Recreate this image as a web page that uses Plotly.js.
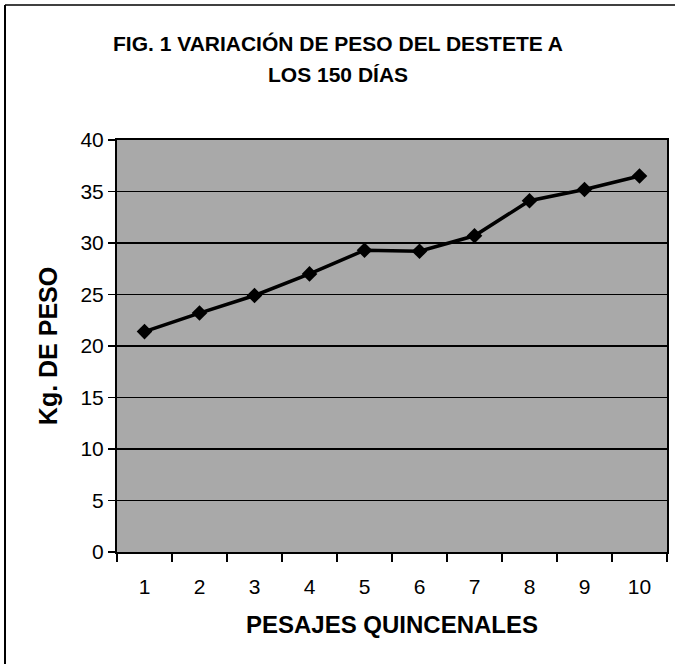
<!DOCTYPE html>
<html>
<head>
<meta charset="utf-8">
<script src="https://cdn.plot.ly/plotly-3.0.1.min.js"></script>
<style>html,body{margin:0;padding:0;background:#fff;}#chart{width:675px;height:664px;}</style>
</head>
<body>
<div id="chart"></div>
<script>
const categories = ["1","2","3","4","5","6","7","8","9","10"];
const pesos = [21.4, 23.2, 24.9, 27.0, 29.3, 29.2, 30.7, 34.1, 35.2, 36.5];
const yTicks = [0, 5, 10, 15, 20, 25, 30, 35, 40];
const titleLines = ['FIG. 1 VARIACIÓN DE PESO DEL DESTETE A', 'LOS 150 DÍAS'];

const trace = {
  x: categories,
  y: pesos,
  type: 'scatter',
  mode: 'lines+markers',
  line: {color: '#000', width: 3.5},
  marker: {symbol: 'diamond', size: 12, color: '#000'},
  hoverinfo: 'skip'
};

// plot area in pixels: x 117..667, y 140..552
const px = x => (x - 117) / 550;
const py = y => (552 - y) / 412;

const layout = {
  width: 675, height: 664,
  margin: {l: 117, r: 8, t: 140, b: 112},
  paper_bgcolor: '#fff',
  plot_bgcolor: '#a9a9a9',
  font: {family: 'Liberation Sans, Arial, sans-serif', color: '#000'},
  showlegend: false,
  xaxis: {
    type: 'category',
    range: [-0.5, categories.length - 0.5],
    tickson: 'boundaries',
    ticks: 'outside', ticklen: 8, tickwidth: 1.5, tickcolor: '#000',
    ticklabelstandoff: 15,
    showline: true, linecolor: '#000', linewidth: 2, mirror: true,
    showgrid: false, zeroline: false,
    tickfont: {size: 21},
    title: {text: '<b>PESAJES QUINCENALES</b>', font: {size: 24}, standoff: 19},
    fixedrange: true
  },
  yaxis: {
    range: [0, 40],
    tickvals: yTicks,
    ticks: 'outside', ticklen: 7, tickwidth: 1.5, tickcolor: '#000',
    showline: true, linecolor: '#000', linewidth: 2, mirror: true,
    showgrid: true, gridcolor: '#000', gridwidth: 1.8, zeroline: false,
    tickfont: {size: 21},
    title: {text: '<b>Kg. DE PESO</b>', font: {size: 25}, standoff: 16},
    fixedrange: true
  },
  annotations: [
    {text: '<b>' + titleLines[0] + '</b>', xref: 'paper', yref: 'paper', x: px(337.5), y: py(43), xanchor: 'center', yanchor: 'middle', showarrow: false, font: {size: 21, color: '#000'}},
    {text: '<b>' + titleLines[1] + '</b>', xref: 'paper', yref: 'paper', x: px(338), y: py(74), xanchor: 'center', yanchor: 'middle', showarrow: false, font: {size: 21, color: '#000'}}
  ],
  shapes: [
    {type: 'line', xref: 'paper', yref: 'paper', x0: px(5), x1: px(5), y0: py(5), y1: py(664), line: {color: '#000', width: 2}},
    {type: 'line', xref: 'paper', yref: 'paper', x0: px(5), x1: px(675), y0: py(5), y1: py(5), line: {color: '#000', width: 1.5}}
  ]
};

Plotly.newPlot('chart', [trace], layout, {displayModeBar: false, staticPlot: true});
</script>
</body>
</html>
